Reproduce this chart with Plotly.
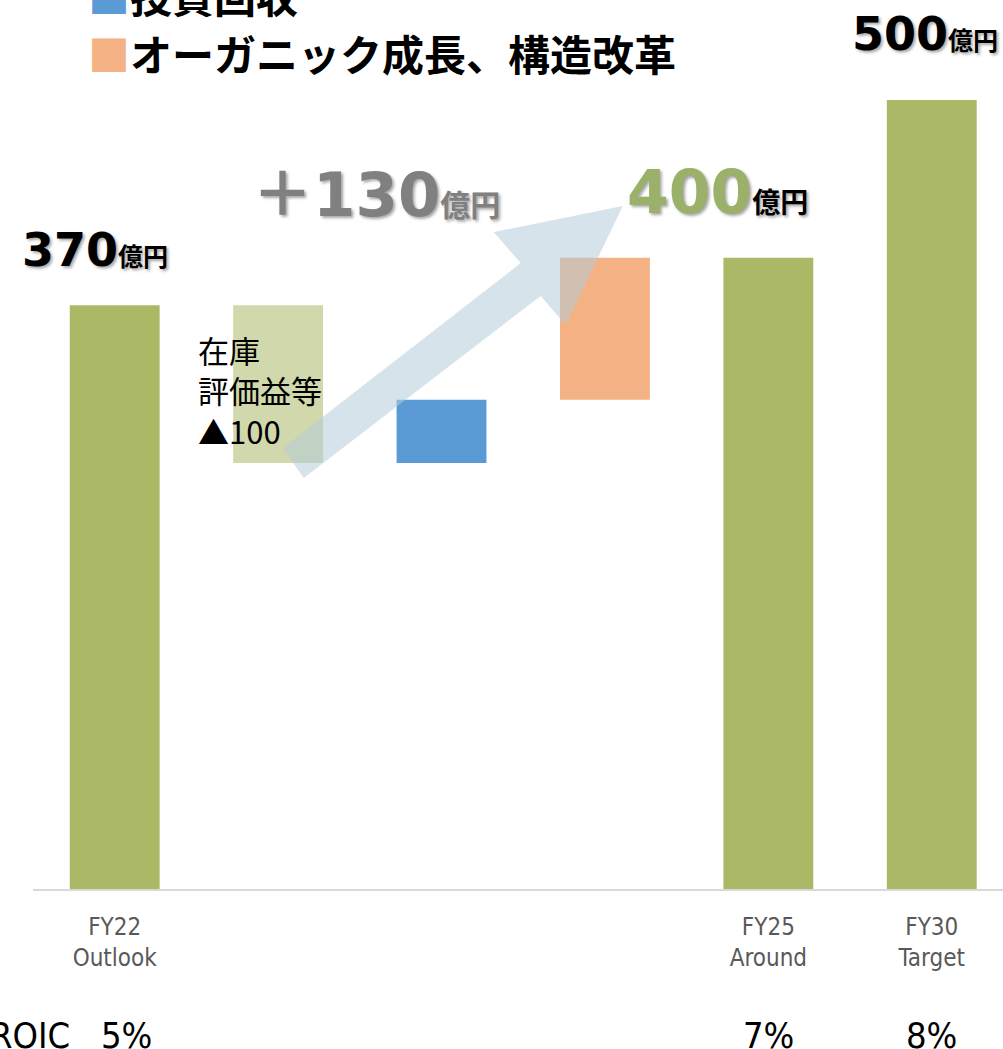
import plotly.graph_objects as go

# ---- data ----
positions = [0, 1, 2, 3, 4, 5]
tick_labels = ["FY22<br>Outlook", "", "", "", "FY25<br>Around", "FY30<br>Target"]
total_x = [0, 4, 5]
total_values = [370, 400, 500]
inventory_x = [1]
inventory_base = [270]
inventory_values = [100]
invest_x = [2]
invest_base = [270]
invest_values = [40]
organic_x = [3]
organic_base = [310]
organic_values = [90]
roic_x = [0, 4, 5]
roic_labels = ["5%", "7%", "8%"]
legend_names = ["投資回収", "オーガニック成長、構造改革"]

GREEN = "#ABB866"
LIGHT_GREEN = "rgba(171,184,102,0.55)"
BLUE = "#5B9BD5"
ORANGE = "#F4B183"

JP = "Noto Sans CJK JP"
NUM = "DejaVu Sans, Noto Sans CJK JP"
NARROW = "Liberation Sans Narrow, DejaVu Sans Condensed"

PLOT_H = 889
fig = go.Figure()
fig.add_trace(go.Bar(x=total_x, y=total_values, width=0.55, marker=dict(color=GREEN, line_width=0)))
fig.add_trace(go.Bar(x=inventory_x, y=inventory_values, base=inventory_base, width=0.55,
                     marker=dict(color=LIGHT_GREEN, line_width=0)))
fig.add_trace(go.Bar(x=invest_x, y=invest_values, base=invest_base, width=0.55,
                     marker=dict(color=BLUE, line_width=0), name=legend_names[0]))
fig.add_trace(go.Bar(x=organic_x, y=organic_values, base=organic_base, width=0.55,
                     marker=dict(color=ORANGE, line_width=0), name=legend_names[1]))

# big translucent arrow
arrow = [(1.157, 260.5), (1.028, 279.5), (2.485, 396.7), (2.319, 416.3),
         (3.109, 432.8), (2.760, 357.4), (2.607, 375.8)]
path = "M " + " L ".join(f"{x},{y}" for x, y in arrow) + " Z"
fig.add_shape(type="path", path=path, xref="x", yref="y", layer="above",
              fillcolor="rgba(180,204,216,0.55)", line=dict(width=0))

shadow = "2px 2px 3px rgba(0,0,0,0.35)"
ann = []
# value labels
ann.append(dict(x=-0.12, y=total_values[0] + 35,
                text=f"<b>{total_values[0]}</b><span style='font-size:25px'><b>億円</b></span>",
                font=dict(family=NUM, size=46, color="#000000", shadow=shadow),
                showarrow=False, xanchor="center", yanchor="middle"))
ann.append(dict(x=5.42, y=total_values[2] + 42,
                text=f"<b>{total_values[2]}</b><span style='font-size:25px'><b>億円</b></span>",
                font=dict(family=NUM, size=46, color="#000000", shadow=shadow),
                showarrow=False, xanchor="right", yanchor="middle"))
ann.append(dict(x=3.69, y=total_values[1] + 42,
                text=f"<b>{total_values[1]}</b><span style='font-size:28px;color:#000000'><b>億円</b></span>",
                font=dict(family=NUM, size=60, color="#9BB068", shadow=shadow),
                showarrow=False, xanchor="center", yanchor="middle"))
increase = sum(invest_values) + sum(organic_values)
ann.append(dict(x=1.6, y=440,
                text=f"<b>＋{increase}</b><span style='font-size:30px'><b>億円</b></span>",
                font=dict(family=NUM, size=61, color="#808080", shadow=shadow),
                showarrow=False, xanchor="center", yanchor="middle"))
ann.append(dict(x=0.5, y=316, text=f"在庫<br>評価益等<br>▲{inventory_values[0]}",
                font=dict(family=JP, size=31, color="#000000"), align="left",
                showarrow=False, xanchor="left", yanchor="middle"))
# legend rows (paper coords)
ann.append(dict(x=-0.173, y=(PLOT_H + 5) / PLOT_H, xref="x", yref="paper",
                text=f"<span style='color:{BLUE}'>■</span><b>{legend_names[0]}</b>",
                font=dict(family=JP, size=42, color="#000000"),
                showarrow=False, xanchor="left", yanchor="middle"))
ann.append(dict(x=-0.173, y=(PLOT_H - 53) / PLOT_H, xref="x", yref="paper",
                text=f"<span style='color:{ORANGE}'>■</span><b>{legend_names[1]}</b>",
                font=dict(family=JP, size=42, color="#000000"),
                showarrow=False, xanchor="left", yanchor="middle"))
# ROIC row
roic_y = (PLOT_H - 1035) / PLOT_H
ann.append(dict(x=(72 - 33) / 970, y=roic_y, xref="paper", yref="paper", text="ROIC",
                font=dict(family=NARROW, size=36, color="#000000"),
                showarrow=False, xanchor="right", yanchor="middle"))
for xv, lab in zip(roic_x, roic_labels):
    ann.append(dict(x=xv + (0.07 if xv == 0 else 0), y=roic_y, xref="x", yref="paper", text=lab,
                    font=dict(family=NARROW, size=36, color="#000000"),
                    showarrow=False, xanchor="center", yanchor="middle"))

fig.update_layout(
    width=1003, height=1049,
    margin=dict(l=33, r=0, t=0, b=160),
    paper_bgcolor="white", plot_bgcolor="white",
    showlegend=False, barmode="overlay",
    annotations=ann,
    xaxis=dict(range=[-0.5, 5.436], tickvals=[positions[i] for i in (0, 4, 5)],
               ticktext=[tick_labels[i] for i in (0, 4, 5)],
               showline=True, linecolor="#D9D9D9", linewidth=2, showgrid=False, zeroline=False,
               ticks="", ticklabelstandoff=15,
               tickfont=dict(family=NARROW, size=24, color="#595959")),
    yaxis=dict(range=[0, PLOT_H / 1.578], visible=False, showgrid=False, zeroline=False),
)

fig.write_html("out.html", config={"displayModeBar": False},
               post_script="document.body.style.margin='0';document.body.style.overflow='hidden';")
